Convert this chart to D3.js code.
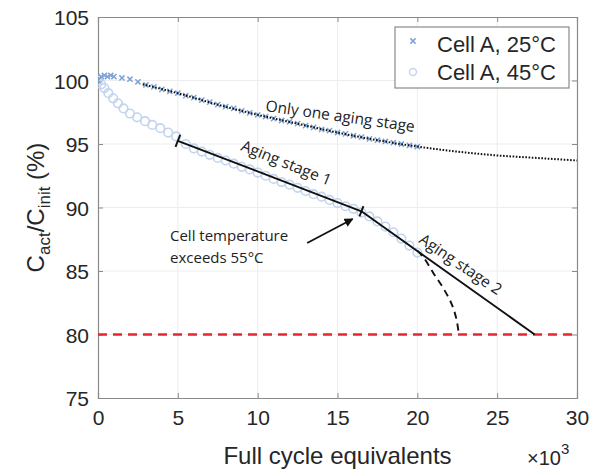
<!DOCTYPE html>
<html>
<head>
<meta charset="utf-8">
<script src="https://cdn.jsdelivr.net/npm/d3@7/dist/d3.min.js"></script>
<style>
  body { margin: 0; background: #fff; }
  svg { display: block; }
  .tick-label { font-family: "Liberation Sans", Arial, sans-serif; font-size: 21px; fill: #262626; }
  .note { font-family: "Open Sans", sans-serif; fill: #222; }
</style>
</head>
<body>
<svg id="chart" width="592" height="470"></svg>
<script>
// measured cells (x in thousands of full cycle equivalents, y in %)
const cellA25 = [
  [0, 100.0], [0.2, 100.3], [0.4, 100.4], [0.6, 100.3], [0.8, 100.4], [1.0, 100.3],
  [1.5, 100.2], [2.0, 100.1], [2.5, 99.9], [3.0, 99.65], [3.5, 99.5], [4.0, 99.3],
  [4.5, 99.15], [5.0, 99.0], [5.5, 98.8], [6.0, 98.65], [6.5, 98.45], [7.0, 98.3],
  [7.5, 98.1], [8.0, 97.95], [8.5, 97.8], [9.0, 97.6], [9.5, 97.45], [10.0, 97.3],
  [10.5, 97.15], [11.0, 97.0], [11.5, 96.85], [12.0, 96.75], [12.5, 96.6], [13.0, 96.45],
  [13.5, 96.3], [14.0, 96.15], [14.5, 96.05], [15.0, 95.9], [15.5, 95.8], [16.0, 95.65],
  [16.5, 95.55], [17.0, 95.4], [17.5, 95.3], [18.0, 95.2], [18.5, 95.1], [19.0, 95.0],
  [19.5, 94.9], [20.0, 94.8]
];
const cellA45 = [
  [0, 100.0], [0.2, 99.7], [0.4, 99.4], [0.65, 99.0], [0.95, 98.6], [1.25, 98.2],
  [1.6, 97.8], [2.0, 97.4], [2.45, 97.1], [2.95, 96.8], [3.4, 96.5], [3.9, 96.25],
  [4.4, 95.9], [4.9, 95.6], [5.5, 95.0], [6.0, 94.65], [6.5, 94.4], [7.0, 94.15],
  [7.5, 93.9], [8.0, 93.7], [8.5, 93.45], [9.0, 93.2], [9.5, 93.0], [10.0, 92.75],
  [10.5, 92.5], [11.0, 92.25], [11.5, 92.0], [12.0, 91.8], [12.5, 91.55], [13.0, 91.3],
  [13.5, 91.05], [14.0, 90.85], [14.5, 90.6], [15.0, 90.35], [15.5, 90.1], [16.0, 89.9],
  [16.5, 89.6], [17.0, 89.3], [17.5, 88.9], [18.0, 88.5], [18.5, 88.05], [19.0, 87.55],
  [19.5, 87.0], [20.0, 86.45]
];

// fitted / annotation curves
const fitOneStage = [
  [2.8, 99.7], [5, 99.0], [7.5, 98.1], [10, 97.3], [12.5, 96.6], [15, 95.9],
  [17.5, 95.3], [20, 94.8], [22.5, 94.4], [25, 94.1], [27.5, 93.9], [30, 93.7]
];
const stage1 = [[5, 95.25], [16.5, 89.7]];
const stage2 = [[16.5, 89.7], [27.35, 80]];
const knee = [[20.0, 86.6], [20.4, 86.05], [21.0, 84.85], [21.6, 83.7], [22.15, 82.4], [22.45, 81.2], [22.6, 80.0]];
const arrow = [[13.1, 87.2], [15.95, 89.1]];
const endOfLife = 80;

const xTicks = [0, 5, 10, 15, 20, 25, 30];
const yTicks = [75, 80, 85, 90, 95, 100, 105];
const legendLabels = ["Cell A, 25°C", "Cell A, 45°C"];

const margin = { top: 17, right: 15, bottom: 72, left: 98 };
const W = 592, H = 470;
const iw = W - margin.left - margin.right, ih = H - margin.top - margin.bottom;

const svg = d3.select('#chart');
const g = svg.append('g').attr('transform', `translate(${margin.left},${margin.top})`);

const x = d3.scaleLinear().domain([0, 30]).range([0, iw]);
const y = d3.scaleLinear().domain([75, 105]).range([ih, 0]);

svg.append('defs').append('clipPath').attr('id', 'clip')
  .append('rect').attr('width', iw).attr('height', ih);

// grid
g.append('g').selectAll('line').data(xTicks.slice(1, -1)).enter().append('line')
  .attr('x1', d => x(d)).attr('x2', d => x(d)).attr('y1', 0).attr('y2', ih)
  .attr('stroke', '#ededed').attr('stroke-width', 1);
g.append('g').selectAll('line').data(yTicks.slice(1, -1)).enter().append('line')
  .attr('y1', d => y(d)).attr('y2', d => y(d)).attr('x1', 0).attr('x2', iw)
  .attr('stroke', '#ededed').attr('stroke-width', 1);

// axes (ticks inward, box on)
const axColor = '#8a8a8a';
const axB = g.append('g').attr('transform', `translate(0,${ih})`)
  .call(d3.axisBottom(x).tickValues(xTicks).tickSize(-5).tickPadding(12));
const axT = g.append('g').call(d3.axisTop(x).tickValues(xTicks).tickSize(-5).tickFormat(''));
const axL = g.append('g').call(d3.axisLeft(y).tickValues(yTicks).tickSize(-5).tickPadding(9));
const axR = g.append('g').attr('transform', `translate(${iw},0)`)
  .call(d3.axisRight(y).tickValues(yTicks).tickSize(-5).tickFormat(''));
[axB, axT, axL, axR].forEach(a => {
  a.select('.domain').attr('stroke', axColor).attr('stroke-width', 1.2);
  a.selectAll('.tick line').attr('stroke', axColor);
  a.selectAll('.tick text').attr('class', 'tick-label').attr('fill', null);
});
axL.selectAll('.tick text').attr('dy', '0.36em');

const plot = g.append('g').attr('clip-path', 'url(#clip)');
const line = d3.line().x(d => x(d[0])).y(d => y(d[1]));

// end-of-life threshold
plot.append('line').attr('x1', 0).attr('x2', iw).attr('y1', y(endOfLife)).attr('y2', y(endOfLife))
  .attr('stroke', '#e8262d').attr('stroke-width', 2.6).attr('stroke-dasharray', '9,6');

// 45 °C circles
plot.append('g').selectAll('circle').data(cellA45).enter().append('circle')
  .attr('cx', d => x(d[0])).attr('cy', d => y(d[1])).attr('r', 4.3)
  .attr('fill', 'none').attr('stroke', '#c2d4ee').attr('stroke-width', 1.6);

// 25 °C crosses
const cs = 2.6;
plot.append('g').selectAll('path').data(cellA25).enter().append('path')
  .attr('d', d => {
    const px = x(d[0]), py = y(d[1]);
    return `M${px - cs},${py - cs}L${px + cs},${py + cs}M${px - cs},${py + cs}L${px + cs},${py - cs}`;
  })
  .attr('stroke', '#7ea3d6').attr('stroke-width', 1.5).attr('fill', 'none');

// fit for a single aging stage
plot.append('path').datum(fitOneStage).attr('d', line.curve(d3.curveMonotoneX))
  .attr('fill', 'none').attr('stroke', '#111').attr('stroke-width', 2).attr('stroke-dasharray', '1.6,1.6');
line.curve(d3.curveLinear);

// stage lines
[stage1, stage2].forEach(s => {
  plot.append('path').datum(s).attr('d', line)
    .attr('fill', 'none').attr('stroke', '#111').attr('stroke-width', 1.9);
});

// perpendicular end bars on stage 1
function endBar(p, q, len) {
  const x0 = x(p[0]), y0 = y(p[1]);
  const dx = x(q[0]) - x0, dy = y(q[1]) - y0;
  const n = Math.hypot(dx, dy);
  const ux = -dy / n * len / 2, uy = dx / n * len / 2;
  plot.append('line').attr('x1', x0 - ux).attr('y1', y0 - uy).attr('x2', x0 + ux).attr('y2', y0 + uy)
    .attr('stroke', '#111').attr('stroke-width', 1.9);
}
endBar(stage1[0], stage1[1], 13);
endBar(stage1[1], stage1[0], 11);

// knee (dashed)
plot.append('path').datum(knee).attr('d', d3.line().x(d => x(d[0])).y(d => y(d[1])).curve(d3.curveCatmullRom))
  .attr('fill', 'none').attr('stroke', '#111').attr('stroke-width', 1.9).attr('stroke-dasharray', '7,5');

// arrow
svg.append('defs').append('marker').attr('id', 'head').attr('viewBox', '0 0 10 10')
  .attr('refX', 9).attr('refY', 5).attr('markerWidth', 9).attr('markerHeight', 9)
  .attr('markerUnits', 'userSpaceOnUse').attr('orient', 'auto')
  .append('path').attr('d', 'M0,0L10,5L0,10z').attr('fill', '#111');
g.append('path').datum(arrow).attr('d', line)
  .attr('stroke', '#111').attr('stroke-width', 1.8).attr('marker-end', 'url(#head)');

// annotations
function note(txt, px, py, ang, size) {
  g.append('text').attr('class', 'note').attr('font-size', size)
    .attr('transform', `translate(${px},${py}) rotate(${ang})`).text(txt);
}
note('Only one aging stage', 265 - margin.left, 111 - margin.top, 8, 15.5);
note('Aging stage 1', 240 - margin.left, 150 - margin.top, 22, 15.5);
note('Aging stage 2', 418 - margin.left, 242 - margin.top, 34, 15.5);
g.append('text').attr('class', 'note').attr('font-size', 15)
  .attr('x', 170 - margin.left).attr('y', 241 - margin.top).attr('fill', '#333').text('Cell temperature');
g.append('text').attr('class', 'note').attr('font-size', 15)
  .attr('x', 170 - margin.left).attr('y', 263 - margin.top).attr('fill', '#333').text('exceeds 55°C');

// legend
const lg = svg.append('g').attr('transform', 'translate(395,27)');
lg.append('rect').attr('width', 174).attr('height', 61).attr('fill', '#fff')
  .attr('stroke', '#8a8a8a').attr('stroke-width', 1.2);
lg.append('path').attr('d', `M${18 - cs},${14 - cs}L${18 + cs},${14 + cs}M${18 - cs},${14 + cs}L${18 + cs},${14 - cs}`)
  .attr('stroke', '#7ea3d6').attr('stroke-width', 1.5);
lg.append('circle').attr('cx', 18).attr('cy', 45).attr('r', 3.5)
  .attr('fill', 'none').attr('stroke', '#c2d4ee').attr('stroke-width', 1.4);
legendLabels.forEach((t, i) => {
  lg.append('text').attr('x', 42).attr('y', 25 + i * 28).attr('font-size', 22)
    .attr('font-family', '"Liberation Sans", Arial, sans-serif').attr('fill', '#262626').text(t);
});

// axis titles
svg.append('text').attr('x', margin.left + iw / 2).attr('y', 464).attr('text-anchor', 'middle')
  .attr('font-family', '"Liberation Sans", Arial, sans-serif').attr('font-size', 24).attr('fill', '#262626')
  .text('Full cycle equivalents');
const mult = svg.append('text').attr('x', 527).attr('y', 465)
  .attr('font-family', '"Liberation Sans", Arial, sans-serif').attr('font-size', 20).attr('fill', '#262626');
mult.append('tspan').text('×10');
mult.append('tspan').attr('font-size', 15).attr('dy', -11).text('3');

const yl = svg.append('text').attr('transform', `translate(44,${margin.top + ih / 2}) rotate(-90)`)
  .attr('text-anchor', 'middle')
  .attr('font-family', '"Liberation Sans", Arial, sans-serif').attr('font-size', 24).attr('fill', '#262626');
yl.append('tspan').text('C');
yl.append('tspan').attr('font-size', 17).attr('dy', 6).text('act');
yl.append('tspan').attr('dy', -6).text('/C');
yl.append('tspan').attr('font-size', 17).attr('dy', 6).text('init');
yl.append('tspan').attr('dy', -6).text(' (%)');
</script>
</body>
</html>
